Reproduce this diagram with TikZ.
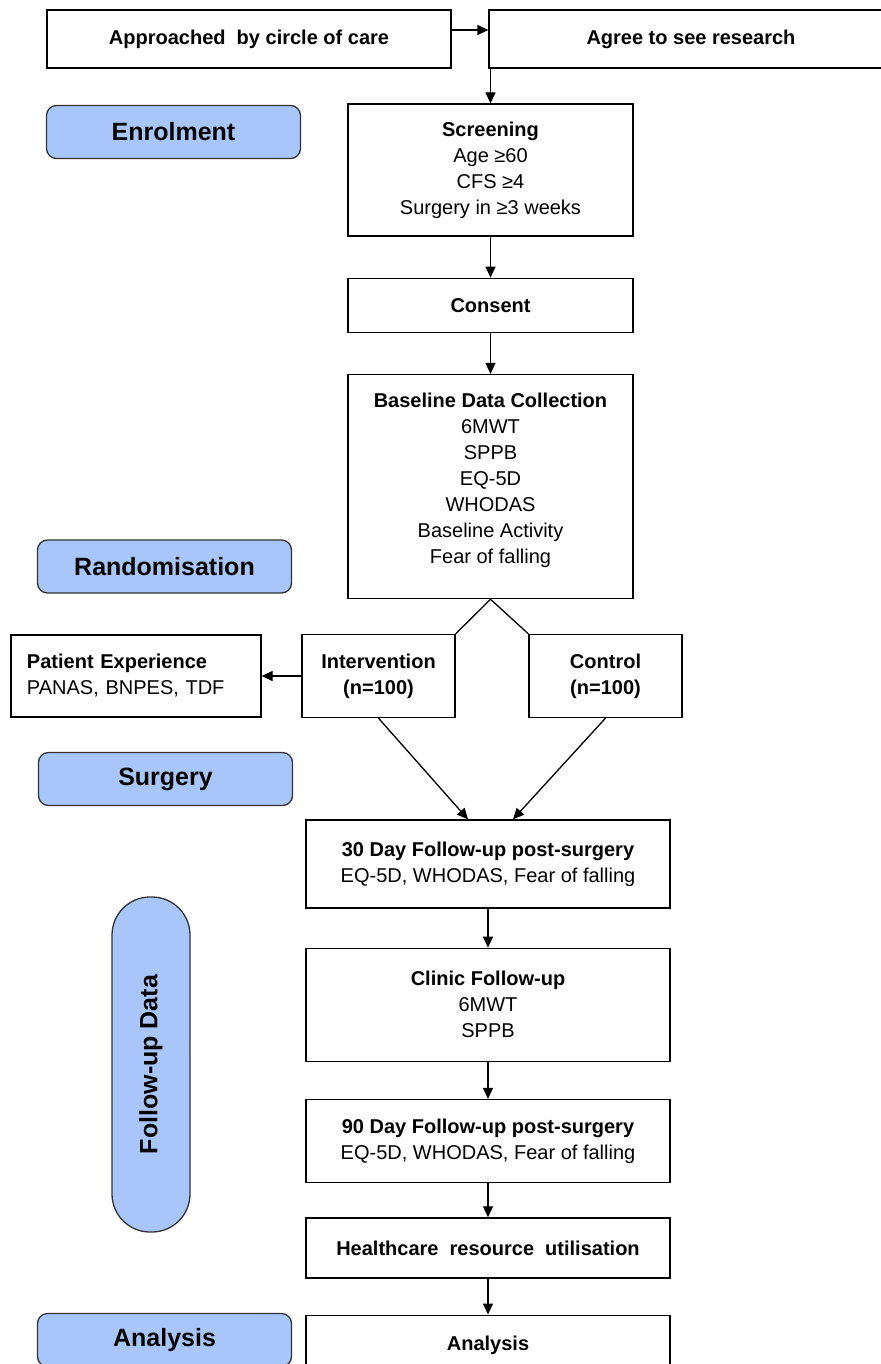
\documentclass[tikz,border=0pt]{standalone}
\usepackage{fontspec}
\setmainfont{Liberation Sans}
\usetikzlibrary{arrows.meta,positioning}
\definecolor{pillblue}{RGB}{169,198,250}
\tikzset{
    %Define standard arrow tip
    >={Triangle[length=11pt,width=10pt]},
    %Define style for white boxes
    flowbox/.style={
           rectangle,
           draw=black, line width=1.3pt,
           fill=white,
           align=center,
           font=\fontsize{20}{26}\selectfont,
           inner sep=4pt},
    %Define style for blue stage boxes
    stagebox/.style={
           rectangle,
           rounded corners=10pt,
           draw=black!80, line width=1.3pt,
           fill=pillblue,
           minimum width=254pt,
           minimum height=53pt,
           font=\fontsize{25}{30}\selectfont\bfseries},
    % Define arrow style
    pil/.style={
           ->,
           line width=1.3pt}
}
\begin{document}
\begin{tikzpicture}[x=1pt,y=-1pt,node distance=38pt]
\useasboundingbox (0,0) rectangle (880,1364);

% top row
\node[flowbox, minimum width=404pt, minimum height=58pt] (approach) at (249,39) {\textbf{Approached\ \ by circle of care}};
\node[flowbox, minimum width=404pt, minimum height=58pt] (agree) at (691,39) {\textbf{Agree to see research}};

% main column
\node[flowbox, minimum width=285pt, minimum height=132pt] (screening) at (490.5,170)
    {\textbf{Screening}\\Age ≥60\\CFS ≥4\\Surgery in ≥3 weeks};
\node[flowbox, minimum width=285pt, minimum height=54pt, below=41pt of screening] (consent) {\textbf{Consent}};
\node[flowbox, minimum width=285pt, minimum height=224pt, below=41pt of consent] (baseline)
    {\textbf{Baseline Data Collection}\\6MWT\\SPPB\\EQ-5D\\WHODAS\\Baseline Activity\\Fear of falling\\[-10pt]\mbox{}};

% arms
\node[flowbox, minimum width=153pt, minimum height=83pt] (interv) at (378.5,676) {\textbf{Intervention}\\\textbf{(n=100)}};
\node[flowbox, minimum width=153pt, minimum height=83pt] (control) at (605.5,676) {\textbf{Control}\\\textbf{(n=100)}};
\node[flowbox, minimum height=82pt, text width=218pt, inner xsep=16pt, align=left] (patient) at (136,676)
    {\textbf{Patient Experience}\\PANAS, BNPES, TDF};

% follow-up column
\node[flowbox, minimum width=364pt, minimum height=88pt] (day30) at (488,864)
    {\textbf{30 Day Follow-up post-surgery}\\EQ-5D, WHODAS, Fear of falling};
\node[flowbox, minimum width=364pt, minimum height=113pt, below=39pt of day30] (clinic)
    {\textbf{Clinic Follow-up}\\6MWT\\SPPB};
\node[flowbox, minimum width=364pt, minimum height=83pt, below=37pt of clinic] (day90)
    {\textbf{90 Day Follow-up post-surgery}\\EQ-5D, WHODAS, Fear of falling};
\node[flowbox, minimum width=364pt, minimum height=60pt, below=34pt of day90] (resource)
    {\textbf{Healthcare\ \ resource\ \ utilisation}};
\node[flowbox, minimum width=364pt, minimum height=60pt, below=36pt of resource] (analysis)
    {\textbf{Analysis}};

% stages
\node[stagebox] (enrol) at (173.5,132) {Enrolment};
\node[stagebox] (random) at (164.5,566.5) {Randomisation};
\node[stagebox] (surgery) at (165.5,779) {Surgery};
\node[stagebox, rounded corners=38pt, minimum width=335pt, minimum height=78pt, rotate=90] (followup) at (151,1064.5) {Follow-up Data};
\node[stagebox] (analysisstage) at (164.5,1340) {Analysis};

\draw[pil] ([yshift=9pt]approach.east) -- ([yshift=9pt]agree.west);
\draw[pil] (screening.north |- agree.south) -- (screening.north);
\draw[pil] (screening.south) -- (consent.north);
\draw[pil] (consent.south) -- (baseline.north);
\draw[line width=1.3pt] (interv.north east) -- (baseline.south) -- (control.north west);
\draw[pil] (interv.west) -- (patient.east);
\draw[pil] (interv.south) -- ([xshift=-20pt]day30.north);
\draw[pil] (control.south) -- ([xshift=25pt]day30.north);
\draw[pil] (day30.south) -- (clinic.north);
\draw[pil] (clinic.south) -- (day90.north);
\draw[pil] (day90.south) -- (resource.north);
\draw[pil] (resource.south) -- (analysis.north);

\end{tikzpicture}
\end{document}
